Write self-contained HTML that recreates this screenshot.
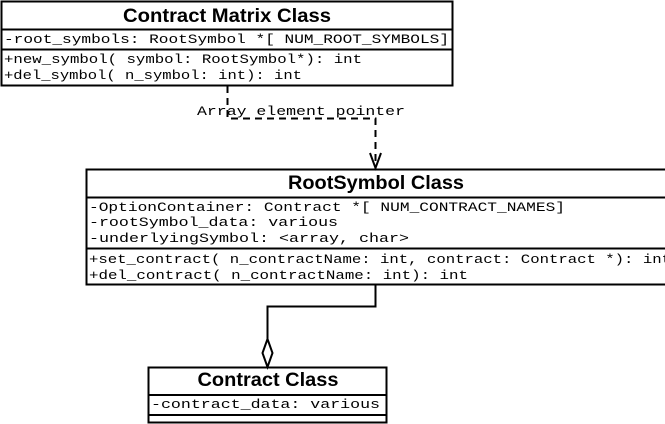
<!DOCTYPE html>
<html><head><meta charset="utf-8"><style>
html,body{margin:0;padding:0;background:#fff;}
svg{display:block;}
.m{font-family:"Liberation Mono","DejaVu Sans Mono",monospace;font-size:12.5px;fill:#000;}
.t{font-family:"Liberation Sans",Arial,sans-serif;font-weight:bold;font-size:19px;fill:#000;}
</style></head><body>
<svg width="665" height="424" viewBox="0 0 665 424" xmlns="http://www.w3.org/2000/svg">
<g fill="#fff" stroke="#000" stroke-width="2">
<rect x="1.5" y="1.5" width="451" height="84"/>
<line x1="1" y1="29.5" x2="453" y2="29.5"/>
<line x1="1" y1="49.5" x2="453" y2="49.5"/>
<rect x="86.5" y="169.5" width="580" height="115"/>
<line x1="86" y1="197.5" x2="665" y2="197.5"/>
<line x1="86" y1="248.5" x2="665" y2="248.5"/>
<rect x="148.5" y="367.5" width="238" height="55"/>
<line x1="148" y1="395" x2="387" y2="395"/>
<line x1="148" y1="415" x2="387" y2="415"/>
</g>
<text class="t" x="227" y="22" text-anchor="middle" textLength="208" lengthAdjust="spacingAndGlyphs">Contract Matrix Class</text>
<text class="m" x="4" y="43" textLength="445" lengthAdjust="spacingAndGlyphs">-root_symbols:  RootSymbol *[ NUM_ROOT_SYMBOLS]</text>
<text class="m" x="4" y="63" textLength="358" lengthAdjust="spacingAndGlyphs">+new_symbol( symbol: RootSymbol*):  int</text>
<text class="m" x="4" y="79" textLength="298" lengthAdjust="spacingAndGlyphs">+del_symbol( n_symbol: int):  int</text>

<text class="t" x="376" y="189" text-anchor="middle" textLength="176" lengthAdjust="spacingAndGlyphs">RootSymbol Class</text>
<text class="m" x="89" y="211" textLength="476" lengthAdjust="spacingAndGlyphs">-OptionContainer:  Contract *[ NUM_CONTRACT_NAMES]</text>
<text class="m" x="89" y="226" textLength="249" lengthAdjust="spacingAndGlyphs">-rootSymbol_data:  various</text>
<text class="m" x="89" y="242" textLength="320" lengthAdjust="spacingAndGlyphs">-underlyingSymbol:  &lt;array, char&gt;</text>
<text class="m" x="89" y="263" textLength="582" lengthAdjust="spacingAndGlyphs">+set_contract( n_contractName: int, contract: Contract *):  int</text>
<text class="m" x="89" y="279" textLength="379" lengthAdjust="spacingAndGlyphs">+del_contract( n_contractName: int):  int</text>

<text class="t" x="268" y="386" text-anchor="middle" textLength="141" lengthAdjust="spacingAndGlyphs">Contract Class</text>
<text class="m" x="151" y="408" textLength="229" lengthAdjust="spacingAndGlyphs">-contract_data:  various</text>

<path d="M227.5 86 V118.5 H375.5 V166" fill="none" stroke="#000" stroke-width="2" stroke-dasharray="7,5"/>
<path d="M370 153 L375.5 168 L381 153" fill="none" stroke="#000" stroke-width="2"/>
<text class="m" x="197" y="115" textLength="208" lengthAdjust="spacingAndGlyphs">Array element pointer</text>

<path d="M375.5 285 V306.5 H267.5 V339" fill="none" stroke="#000" stroke-width="2"/>
<path d="M267.5 339 L262.5 353 L267.5 367 L272.5 353 Z" fill="#fff" stroke="#000" stroke-width="2"/>
</svg>
</body></html>
